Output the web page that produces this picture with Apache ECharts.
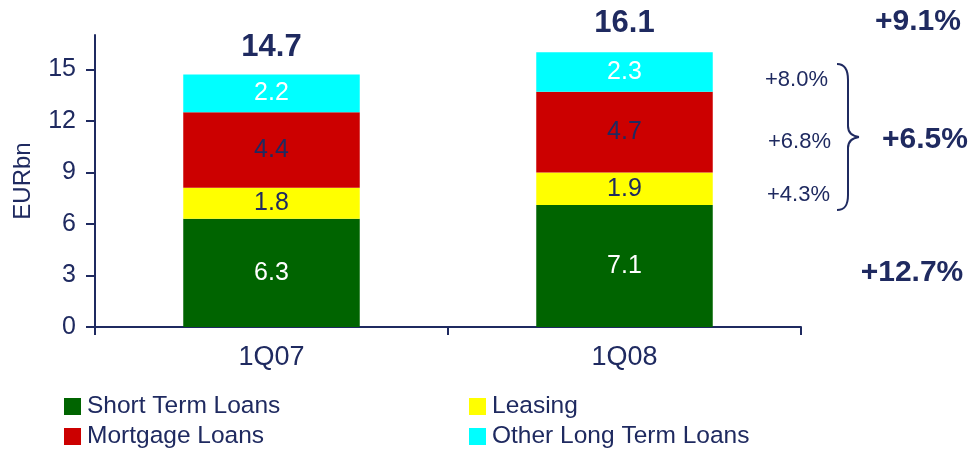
<!DOCTYPE html>
<html>
<head>
<meta charset="utf-8">
<script src="https://cdn.jsdelivr.net/npm/echarts@6/dist/echarts.min.js"></script>
<style>
  html, body { margin: 0; padding: 0; background: #ffffff; }
  #chart { width: 973px; height: 450px; }
</style>
</head>
<body>
<div id="chart"></div>
<script>
// Loan book by product, EURbn
const categories = ['1Q07', '1Q08'];
const shortTermLoans = [6.3, 7.1];
const leasing = [1.8, 1.9];
const mortgageLoans = [4.4, 4.7];
const otherLongTermLoans = [2.2, 2.3];
const totals = [14.7, 16.1];
const yTicks = [0, 3, 6, 9, 12, 15];

// Growth annotations on the right-hand side
const growthTotal = '+9.1%';
const growthOtherLong = '+8.0%';
const growthMortgage = '+6.8%';
const growthLeasing = '+4.3%';
const growthLongTerm = '+6.5%';
const growthShortTerm = '+12.7%';

const NAVY = '#1f2a60';
const FONT = 'Liberation Sans, Arial, sans-serif';

const chart = echarts.init(document.getElementById('chart'), null, { renderer: 'canvas' });

function stackSeries(name, data, color, labelColor) {
  return {
    name: name,
    type: 'bar',
    stack: 'total',
    data: data,
    barWidth: '50%',
    itemStyle: { color: color },
    label: {
      show: true,
      position: 'inside',
      color: labelColor,
      fontSize: 25,
      fontFamily: FONT,
      formatter: p => p.value.toFixed(1)
    },
    emphasis: { disabled: true }
  };
}

function legendItem(name, left, top) {
  return {
    data: [name],
    left: left,
    top: top,
    padding: 0,
    icon: 'rect',
    itemWidth: 17,
    itemHeight: 17,
    itemGap: 0,
    selectedMode: false,
    textStyle: { color: NAVY, fontSize: 24.5, fontFamily: FONT, padding: [0, 0, 0, 1] }
  };
}

// Curly brace grouping the long-term growth rates
const braceStyle = { fill: 'none', stroke: NAVY, lineWidth: 2 };
function curve(x1, y1, cpx1, cpy1, cpx2, cpy2, x2, y2) {
  return { type: 'bezierCurve', shape: { x1, y1, cpx1, cpy1, cpx2, cpy2, x2, y2 }, style: braceStyle };
}
function segment(x1, y1, x2, y2) {
  return { type: 'line', shape: { x1, y1, x2, y2 }, style: braceStyle };
}
const brace = [
  curve(837, 64, 845, 64, 848, 70, 848, 80),
  segment(848, 80, 848, 126),
  curve(848, 126, 848, 132, 852, 136, 859, 137),
  curve(859, 137, 852, 138, 848, 142, 848, 148),
  segment(848, 148, 848, 195),
  curve(848, 195, 848, 205, 845, 210, 837, 210)
];

function note(text, x, y, align, font) {
  return { type: 'text', style: { text: text, x: x, y: y, textAlign: align, textVerticalAlign: 'middle', fill: NAVY, font: font } };
}

const option = {
  animation: false,
  backgroundColor: '#ffffff',
  textStyle: { fontFamily: FONT },
  grid: { left: 95, right: 172, top: 35, bottom: 123, containLabel: false },
  legend: [
    legendItem('Short Term Loans', 64, 394),
    legendItem('Leasing', 469, 394),
    legendItem('Mortgage Loans', 64, 424),
    legendItem('Other Long Term Loans', 469, 424)
  ],
  xAxis: {
    type: 'category',
    data: categories,
    axisLine: { lineStyle: { color: NAVY, width: 2 } },
    axisTick: { show: true, length: 8, lineStyle: { color: NAVY, width: 2 } },
    axisLabel: { color: NAVY, fontSize: 27, fontFamily: FONT, margin: 17 },
    splitLine: { show: false }
  },
  yAxis: {
    type: 'value',
    min: 0,
    max: 17,
    interval: 3,
    name: 'EURbn',
    nameLocation: 'middle',
    nameRotate: 90,
    nameGap: 60,
    nameTextStyle: { color: NAVY, fontSize: 24, fontFamily: FONT },
    axisLine: { show: true, lineStyle: { color: NAVY, width: 2 } },
    axisTick: { show: true, length: 9, customValues: yTicks, lineStyle: { color: NAVY, width: 2 } },
    axisLabel: { color: NAVY, fontSize: 25, fontFamily: FONT, margin: 19, customValues: yTicks },
    splitLine: { show: false }
  },
  series: [
    stackSeries('Short Term Loans', shortTermLoans, '#006400', '#ffffff'),
    stackSeries('Leasing', leasing, '#ffff00', NAVY),
    stackSeries('Mortgage Loans', mortgageLoans, '#cc0000', NAVY),
    stackSeries('Other Long Term Loans', otherLongTermLoans, '#00ffff', '#ffffff'),
    {
      name: 'Total',
      type: 'scatter',
      data: totals,
      symbolSize: 0,
      silent: true,
      itemStyle: { opacity: 1 },
      label: {
        show: true,
        position: 'top',
        distance: 12,
        color: NAVY,
        opacity: 1,
        fontSize: 31,
        fontWeight: 'bold',
        fontFamily: FONT,
        formatter: p => p.value.toFixed(1)
      }
    }
  ],
  graphic: [
    note(growthTotal, 918, 22, 'center', 'bold 30px ' + FONT),
    note(growthOtherLong, 828, 80, 'right', '22px ' + FONT),
    note(growthMortgage, 831, 142, 'right', '22px ' + FONT),
    note(growthLeasing, 830, 195, 'right', '22px ' + FONT),
    note(growthLongTerm, 925, 140, 'center', 'bold 30px ' + FONT),
    note(growthShortTerm, 912, 273, 'center', 'bold 30px ' + FONT)
  ].concat(brace)
};

chart.setOption(option);
</script>
</body>
</html>
